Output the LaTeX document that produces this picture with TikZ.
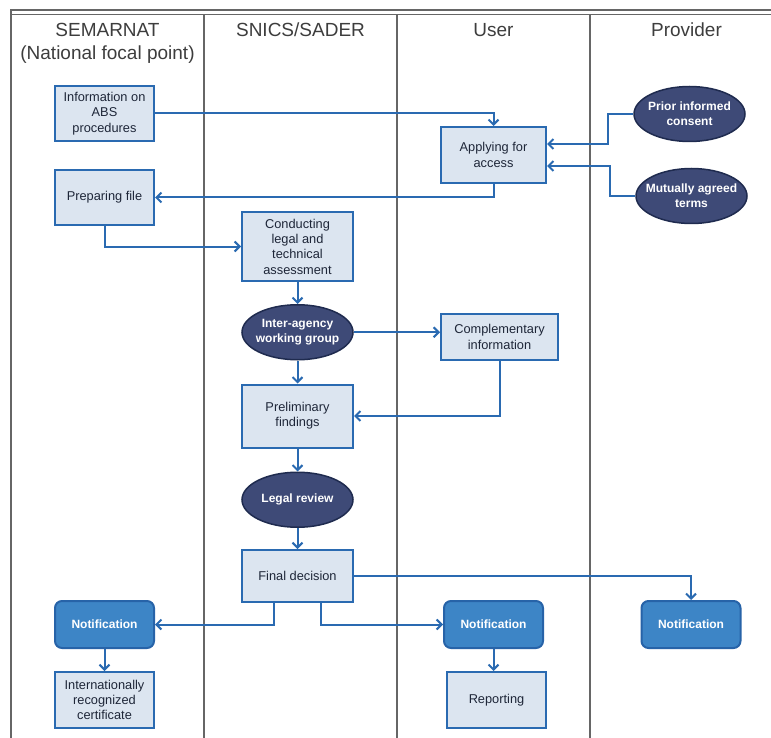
\documentclass[tikz,border=0pt]{standalone}
\usepackage{fontspec}
\setmainfont{Liberation Sans}
\usepackage{xcolor}
\definecolor{flowBlue}{HTML}{2A6AB1}
\definecolor{boxFill}{HTML}{DCE5F0}
\definecolor{ovalFill}{HTML}{3E4A77}
\definecolor{ovalEdge}{HTML}{1F2B4F}
\definecolor{noticeFill}{HTML}{3D85C6}
\definecolor{noticeEdge}{HTML}{2763A8}
\definecolor{laneGray}{HTML}{666666}
\definecolor{textDark}{HTML}{1E2638}
\usepackage{tikz}
\usetikzlibrary{positioning,arrows.meta,shapes.geometric}
\tikzset{%
  taskBox/.style={%
    rectangle,
    draw=flowBlue,
    line width=2pt,
    fill=boxFill,
    text=textDark,
    minimum width=99pt,
    minimum height=55pt,
    inner sep=0pt,
    align=center,
    font=\fontsize{12.8}{15.3}\selectfont
  },
  agencyOval/.style={%
    ellipse,
    draw=ovalEdge,
    line width=1.5pt,
    fill=ovalFill,
    text=white,
    minimum width=111pt,
    minimum height=55pt,
    inner xsep=-7pt,
    inner ysep=0pt,
    align=center,
    font=\bfseries\fontsize{12}{15}\selectfont
  },
  noticeBox/.style={%
    rectangle,
    rounded corners=7pt,
    draw=noticeEdge,
    line width=2pt,
    fill=noticeFill,
    text=white,
    minimum width=99pt,
    minimum height=47pt,
    font=\bfseries\fontsize{12}{15}\selectfont
  },
  flowArrow/.style={%
    -{Straight Barb[length=5pt,width=10pt]},
    line width=2pt,
    color=flowBlue
  },
  laneLine/.style={%
    draw=laneGray,
    line width=1.5pt
  },
  laneTitle/.style={%
    text=laneGray!60!black,
    align=center,
    font=\fontsize{19}{23}\selectfont
  }
}

\begin{document}
\begin{tikzpicture}[x=1pt, y=-1pt, node distance=24pt]
  \useasboundingbox (0,0) rectangle (771,738);
  % swimlanes
  \draw[laneLine] (11,738) -- (11,10) -- (771,10);
  \draw[laneLine] (11,14.5) -- (771,14.5);
  \foreach \lx in {204,397,590}
    \draw[laneLine] (\lx,14.5) -- (\lx,738);
  \node[laneTitle] (semarnat) at (107.5,43) {SEMARNAT\\(National focal point)};
  \node[laneTitle] (snics) at (300.5,30) {SNICS/SADER};
  \node[laneTitle] (user) at (493.5,30) {User};
  \node[laneTitle] (provider) at (686.5,30) {Provider};

  % SEMARNAT lane
  \node[taskBox] (info) at (104.5,113.5) {Information on\\ABS\\procedures};
  \node[taskBox, below=27pt of info] (prep) {Preparing file};
  \node[noticeBox] (notif1) at (104.5,624.5) {Notification};
  \node[taskBox, minimum height=56pt] (cert) at (104.5,700) {Internationally\\recognized\\certificate};

  % SNICS/SADER lane
  \node[taskBox, minimum width=111pt, minimum height=69pt] (assess) at (297.5,246.5) {Conducting\\legal and\\technical\\assessment};
  \node[agencyOval, below=22pt of assess] (group) {Inter-agency\\working group};
  \node[taskBox, minimum width=111pt, minimum height=63pt, below=23pt of group] (prelim) {Preliminary\\findings};
  \node[agencyOval, below=23pt of prelim] (review) {Legal review};
  \node[taskBox, minimum width=111pt, minimum height=52pt, below=21pt of review] (decision) {Final decision};

  % user lane
  \node[taskBox, minimum width=105pt, minimum height=56pt] (apply) at (493.5,155) {Applying for\\access};
  \node[taskBox, minimum width=117pt, minimum height=46pt] (compl) at (499.5,337) {Complementary\\information};
  \node[noticeBox] (notif2) at (493.5,624.5) {Notification};
  \node[taskBox, minimum height=56pt] (report) at (496.5,700) {Reporting};

  % provider lane
  \node[agencyOval] (consent) at (689.5,114) {Prior informed\\consent};
  \node[agencyOval] (terms) at (691.5,196) {Mutually agreed\\terms};
  \node[noticeBox] (notif3) at (691,624.5) {Notification};

  % flows
  \draw[flowArrow] (info.east) -| (apply.north);
  \draw[flowArrow] (consent.west) -- ++(-25,0) |- ([yshift=11pt]apply.east);
  \draw[flowArrow] (terms.west) -- ++(-25,0) |- ([yshift=-11pt]apply.east);
  \draw[flowArrow] (apply.south) |- (prep.east);
  \draw[flowArrow] (prep.south) |- (assess.west);
  \draw[flowArrow] (assess) -- (group);
  \draw[flowArrow] (group.east) -- (group.east -| compl.west);
  \draw[flowArrow] (group) -- (prelim);
  \draw[flowArrow] (compl.south) |- (prelim.east);
  \draw[flowArrow] (prelim) -- (review);
  \draw[flowArrow] (review) -- (decision);
  \draw[flowArrow] (decision.east) -| (notif3.north);
  \draw[flowArrow] ([xshift=-23.5pt]decision.south) |- (notif1.east);
  \draw[flowArrow] ([xshift=23pt]decision.south) |- (notif2.west);
  \draw[flowArrow] (notif1) -- (cert);
  \draw[flowArrow] (notif2.south) -- (notif2.south |- report.north);
\end{tikzpicture}
\end{document}
